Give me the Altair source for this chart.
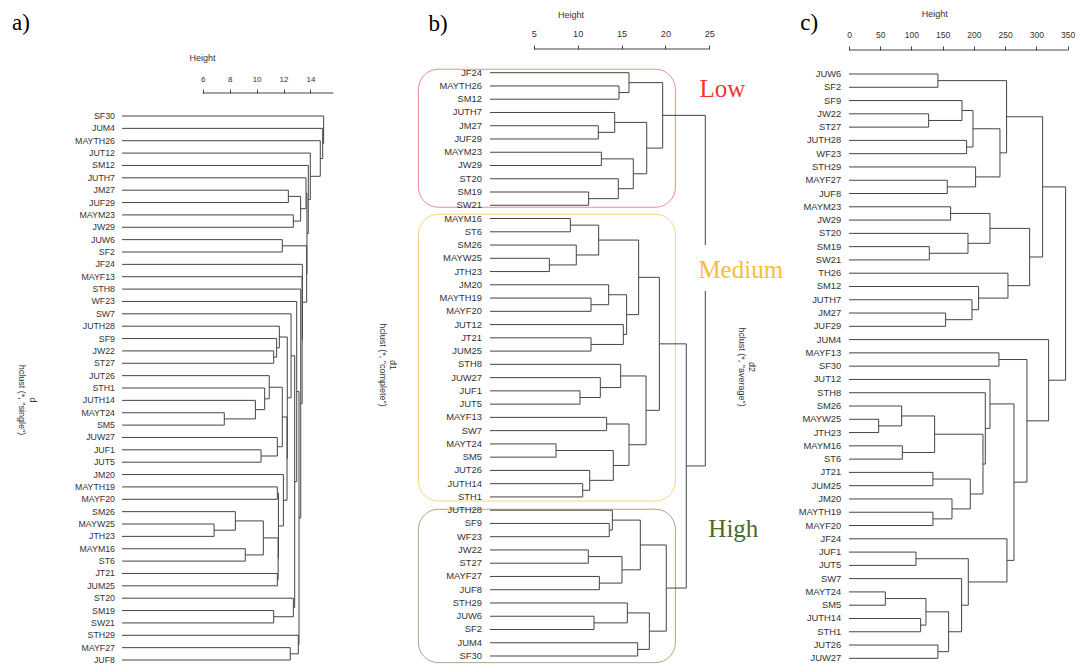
import altair as alt
import pandas as pd

SANS = "Liberation Sans"
SERIF = "Liberation Serif"
LINE = "#444444"
TXT = "#333333"

# ---------------- panel a : single linkage ----------------
LEAVES_A = ["SF30", "JUM4", "MAYTH26", "JUT12", "SM12", "JUTH7", "JM27", "JUF29",
            "MAYM23", "JW29", "JUW6", "SF2", "JF24", "MAYF13", "STH8", "WF23", "SW7",
            "JUTH28", "SF9", "JW22", "ST27", "JUT26", "STH1", "JUTH14", "MAYT24", "SM5",
            "JUW27", "JUF1", "JUT5", "JM20", "MAYTH19", "MAYF20", "SM26", "MAYW25",
            "JTH23", "MAYM16", "ST6", "JT21", "JUM25", "ST20", "SM19", "SW21", "STH29",
            "MAYF27", "JUF8"]
# (child, child, height); integers refer to earlier merges (1-based)
MERGES_A = [
    ("JM27", "JUF29", 12.36), ("MAYM23", "JW29", 12.73), (1, 2, 13.27),
    ("JUW6", "SF2", 11.91), ("JW22", "ST27", 11.27), ("SF9", 5, 11.49),
    ("JUTH28", 6, 11.69), ("MAYT24", "SM5", 7.6), ("JUTH14", 8, 9.91),
    ("STH1", 9, 10.6), ("JUT26", 10, 10.94), ("JUF1", "JUT5", 10.33),
    ("JUW27", 12, 11.54), (11, 13, 11.91), ("MAYTH19", "MAYF20", 11.54),
    ("MAYW25", "JTH23", 6.84), ("SM26", 16, 8.42), ("MAYM16", "ST6", 9.16),
    (17, 18, 10.5), ("JT21", "JUM25", 11.54), (19, 20, 11.6), (15, 21, 11.62),
    ("JM20", 22, 11.99), (14, 23, 12.26), (7, 24, 12.28), ("SW7", 25, 12.56),
    ("SM19", "SW21", 11.27), ("ST20", 27, 12.73), (26, 28, 12.83),
    ("WF23", 29, 12.98), ("MAYF27", "JUF8", 12.5), ("STH29", 31, 13.1),
    (30, 32, 13.15), ("STH8", 33, 13.28), ("MAYF13", 34, 13.38),
    ("JF24", 35, 13.4), (4, 36, 13.72), ("JUTH7", 3, 13.67), (38, 37, 13.74),
    ("SM12", 39, 13.84), ("JUT12", 40, 13.99), ("MAYTH26", 41, 14.73),
    ("JUM4", 42, 14.91), ("SF30", 43, 14.98),
]
TICKS_A = [6, 8, 10, 12, 14]
AXIS_END_A = 15.7

# ---------------- panel b : complete linkage ----------------
LEAVES_B = ["JF24", "MAYTH26", "SM12", "JUTH7", "JM27", "JUF29", "MAYM23", "JW29",
            "ST20", "SM19", "SW21", "MAYM16", "ST6", "SM26", "MAYW25", "JTH23", "JM20",
            "MAYTH19", "MAYF20", "JUT12", "JT21", "JUM25", "STH8", "JUW27", "JUF1",
            "JUT5", "MAYF13", "SW7", "MAYT24", "SM5", "JUT26", "JUTH14", "STH1",
            "JUTH28", "SF9", "WF23", "JW22", "ST27", "MAYF27", "JUF8", "STH29", "JUW6",
            "SF2", "JUM4", "SF30"]
MERGES_B = [
    ("MAYTH26", "SM12", 14.71), ("JF24", 1, 15.85), ("JM27", "JUF29", 12.35),
    ("JUTH7", 3, 14.22), ("MAYM23", "JW29", 12.7), ("SM19", "SW21", 11.25),
    ("ST20", 6, 14.63), (5, 7, 16.34), (4, 8, 17.87), (2, 9, 19.69),
    ("MAYM16", "ST6", 9.16), ("MAYW25", "JTH23", 6.77), ("SM26", 12, 9.84),
    (11, 13, 12.39), ("MAYTH19", "MAYF20", 11.52), ("JM20", 15, 13.53),
    ("JT21", "JUM25", 11.52), ("JUT12", 17, 15.2), (16, 18, 15.58),
    (14, 19, 16.95), ("JUF1", "JUT5", 10.26), ("JUW27", 21, 12.58),
    ("STH8", 22, 14.9), ("MAYF13", "SW7", 13.3), ("MAYT24", "SM5", 7.53),
    ("JUTH14", "STH1", 10.57), ("JUT26", 26, 11.37), (25, 27, 14.06),
    (24, 28, 15.85), (23, 29, 17.79), (20, 30, 19.31), ("SF9", "WF23", 13.6),
    ("JUTH28", 32, 13.95), ("JW22", "ST27", 11.21), ("MAYF27", "JUF8", 12.47),
    (34, 35, 15.05), (33, 36, 17.14), ("JUW6", "SF2", 11.86), ("STH29", 38, 15.66),
    ("JUM4", "SF30", 16.84), (39, 40, 18.17), (37, 41, 20.1), (31, 42, 22.38),
    (10, 43, 24.55),
]
TICKS_B = [5, 10, 15, 20, 25]
AXIS_END_B = 25

GROUP_NAMES = ["Low", "Medium", "High"]
GROUP_TEXT_COLORS = ["#f03535", "#f9bc3c", "#4d6a2a"]
GROUP_BOX_COLORS = ["#ee8d8d", "#fbd47f", "#a6a884"]
GROUP_TOP = [-0.26, 10.68, 32.93]      # in leaf units
GROUP_BOTTOM = [10.15, 32.31, 44.5]
GROUP_BOX_X = [-8.16, 21.14]           # in height units
GROUP_LABEL_X = [23.88, 23.76, 24.9]
GROUP_LABEL_Y = [1.83, 15.49, 35.02]
MEDIUM_GAP_X = [23.4, 33.8]
MEDIUM_GAP_Y = [13.0, 16.47]

# ---------------- panel c : average linkage ----------------
LEAVES_C = ["JUW6", "SF2", "SF9", "JW22", "ST27", "JUTH28", "WF23", "STH29", "MAYF27",
            "JUF8", "MAYM23", "JW29", "ST20", "SM19", "SW21", "TH26", "SM12", "JUTH7",
            "JM27", "JUF29", "JUM4", "MAYF13", "SF30", "JUT12", "STH8", "SM26", "MAYW25",
            "JTH23", "MAYM16", "ST6", "JT21", "JUM25", "JM20", "MAYTH19", "MAYF20",
            "JF24", "JUF1", "JUT5", "SW7", "MAYT24", "SM5", "JUTH14", "STH1", "JUT26",
            "JUW27"]
MERGES_C = [
    ("JUW6", "SF2", 142.4), ("JW22", "ST27", 127.5), ("SF9", 2, 180.9),
    ("JUTH28", "WF23", 188.3), (3, 4, 198.5), ("MAYF27", "JUF8", 157.4),
    ("STH29", 6, 202.7), (5, 7, 241.7), (1, 8, 252.3), ("MAYM23", "JW29", 162.7),
    ("SM19", "SW21", 128.6), ("ST20", 11, 190.5), (10, 12, 225.7),
    ("JM27", "JUF29", 154.7), ("JUTH7", 14, 196.9), ("SM12", 15, 207.5),
    ("TH26", 16, 254.5), (13, 17, 289.2), (9, 18, 310.0), ("MAYF13", "SF30", 240.1),
    ("MAYW25", "JTH23", 47.5), ("SM26", 21, 84.3), ("MAYM16", "ST6", 85.4),
    (22, 23, 137.1), ("JT21", "JUM25", 134.4), ("MAYTH19", "MAYF20", 134.4),
    ("JM20", 26, 164.9), (25, 27, 194.2), (24, 28, 214.5), ("STH8", 29, 218.2),
    ("JUT12", 30, 225.7), ("JUF1", "JUT5", 107.2), ("MAYT24", "SM5", 58.2),
    ("JUTH14", "STH1", 114.7), (33, 34, 123.2), ("JUT26", "JUW27", 142.4),
    (35, 36, 159.5), ("SW7", 37, 180.3), (32, 38, 191.0), ("JF24", 39, 252.9),
    (31, 40, 264.1), (20, 41, 284.9), ("JUM4", 42, 319.6), (19, 43, 346.8),
]
TICKS_C = [0, 50, 100, 150, 200, 250, 300, 350]
AXIS_END_C = 350

# ---------------- layout ----------------
Y0 = 60          # page y of the top of every plot area
H = 600          # plot area height
SPACING = 80


def tree_segments(leaves, merges):
    pos = {n: i for i, n in enumerate(leaves)}
    cy, ch, rows = [], [], []

    def node(c):
        if isinstance(c, str):
            return float(pos[c]), 0.0
        return cy[c - 1], ch[c - 1]

    for c1, c2, h in merges:
        y1, h1 = node(c1)
        y2, h2 = node(c2)
        rows += [dict(x=h1, x2=h, y=y1, y2=y1),
                 dict(x=h2, x2=h, y=y2, y2=y2),
                 dict(x=h, x2=h, y=y1, y2=y2)]
        cy.append((y1 + y2) / 2)
        ch.append(h)
    return pd.DataFrame(rows)


def panel(leaves, merges, ticks, axis_end, ox, px, width, first_px, step_px,
          label_size, label_dx, tick_font, axis_y, label_cy, title_xy,
          letter, letter_xy, sub, sub_xy, before=None, after=None, anchor=False):
    xmax = width / px
    d0 = -(first_px - Y0) / step_px
    d1 = d0 + H / step_px
    xs = alt.Scale(domain=[0, xmax], nice=False, zero=False)
    ys = alt.Scale(domain=[d0, d1], nice=False, zero=False, reverse=True)
    xaxis = alt.Axis(
        values=ticks, orient="top", offset=Y0 - axis_y, domain=False, grid=False,
        tickSize=4, tickColor=LINE, tickWidth=1,
        labelFont=SANS, labelFontSize=tick_font, labelColor=TXT,
        labelBaseline="middle", labelPadding=axis_y - label_cy - 4,
        labelFlush=False, labelOverlap=False,
        title="Height", titleFont=SANS, titleFontSize=9, titleFontWeight="normal",
        titleColor=TXT, titleX=title_xy[0] - ox, titleY=title_xy[1] - axis_y,
        titleBaseline="middle", titleAlign="center", titleAngle=0)

    def X(field):
        return alt.X(field, scale=xs, axis=xaxis)

    def Y(field):
        return alt.Y(field, scale=ys, axis=None)

    seg = alt.Chart(tree_segments(leaves, merges)).mark_rule(
        color=LINE, strokeWidth=1).encode(x=X("x:Q"), x2="x2", y=Y("y:Q"), y2="y2")

    dom = alt.Chart(pd.DataFrame({"x": [ticks[0]], "x2": [axis_end]})).mark_rule(
        color=LINE, strokeWidth=1).encode(x=X("x:Q"), x2="x2", y=alt.value(axis_y - Y0))

    lab = alt.Chart(pd.DataFrame({"name": leaves, "i": list(range(len(leaves))),
                                  "x": [0.0] * len(leaves)})).mark_text(
        align="right", baseline="middle", dx=label_dx, font=SANS,
        fontSize=label_size, color=TXT).encode(x=X("x:Q"), y=Y("i:Q"), text="name:N")

    let = alt.Chart(pd.DataFrame({"t": [letter]})).mark_text(
        align="left", baseline="alphabetic", font=SERIF, fontSize=23,
        color="black").encode(
        x=alt.value(letter_xy[0] - ox), y=alt.value(letter_xy[1] - Y0), text="t:N")

    subl = alt.Chart(pd.DataFrame({"k": [0]})).mark_text(
        text=sub, angle=90, align="center", baseline="middle", lineHeight=10.5,
        font=SANS, fontSize=9, color=TXT).encode(
        x=alt.value(sub_xy[0] - ox), y=alt.value(sub_xy[1] - Y0))

    layers = []
    if anchor:
        # invisible layout anchor: pins the top of the drawing to the page margin
        layers.append(alt.Chart(pd.DataFrame({"k": [0]})).mark_rule(
            strokeOpacity=0, strokeWidth=1).encode(
            x=alt.value(0), x2=alt.value(2), y=alt.value(8.5 - Y0)))
    if before:
        layers += before(X, Y)
    layers += [seg, dom]
    if after:
        layers += after(X, Y)
    layers += [lab, let, subl]
    return alt.layer(*layers).properties(width=width, height=H)


def b_before(X, Y):
    boxes = pd.DataFrame({"x": [GROUP_BOX_X[0]] * 3, "x2": [GROUP_BOX_X[1]] * 3,
                          "y": GROUP_TOP, "y2": GROUP_BOTTOM, "col": GROUP_BOX_COLORS})
    return [alt.Chart(boxes).mark_rect(cornerRadius=20, fillOpacity=0, strokeWidth=1).encode(
        x=X("x:Q"), x2="x2", y=Y("y:Q"), y2="y2",
        stroke=alt.Stroke("col:N", scale=None))]


def b_after(X, Y):
    gap = pd.DataFrame({"x": [MEDIUM_GAP_X[0]], "x2": [MEDIUM_GAP_X[1]],
                        "y": [MEDIUM_GAP_Y[0]], "y2": [MEDIUM_GAP_Y[1]]})
    white = alt.Chart(gap).mark_rect(color="white").encode(
        x=X("x:Q"), x2="x2", y=Y("y:Q"), y2="y2")
    grp = pd.DataFrame({"name": GROUP_NAMES, "x": GROUP_LABEL_X, "y": GROUP_LABEL_Y,
                        "col": GROUP_TEXT_COLORS})
    txt = alt.Chart(grp).mark_text(align="left", baseline="alphabetic", font=SERIF,
                                   fontSize=25).encode(
        x=X("x:Q"), y=Y("y:Q"), text="name:N", color=alt.Color("col:N", scale=None))
    return [white, txt]


OX_A, OX_B, OX_C = 122.0, 489.6, 847.7
PX_A, PX_B, PX_C = 13.46, 8.77, 0.6246
W_A = OX_B - OX_A - SPACING
W_B = OX_C - OX_B - SPACING
W_C = PX_C * 352

pa = panel(LEAVES_A, MERGES_A, TICKS_A, AXIS_END_A, OX_A, PX_A, W_A, 116.0, 12.364,
           8.8, -7, 8, 93, 79, (202, 57.8), "a)", (12, 30),
           ["d", 'hclust (*, "single")'], (32.5, 400), anchor=True)
pb = panel(LEAVES_B, MERGES_B, TICKS_B, AXIS_END_B, OX_B, PX_B, W_B, 72.7, 13.257,
           9.4, -8, 9.2, 49, 33.3, (570, 14), "b)", (428, 31),
           ["d1", 'hclust (*, "complete")'], (393, 365),
           before=b_before, after=b_after)
pc = panel(LEAVES_C, MERGES_C, TICKS_C, AXIS_END_C, OX_C, PX_C, W_C, 74.0, 13.28,
           9.4, -7.7, 8.5, 50, 34.5, (933, 13), "c)", (799, 30),
           ["d2", 'hclust (*, "average")'], (751, 367))

chart = alt.hconcat(pa, pb, pc, spacing=SPACING, bounds="flush").properties(
    padding={"left": 4, "top": 0, "right": 2, "bottom": 0}
).configure_view(stroke=None)

chart.save("out.html", embed_options={"renderer": "svg", "actions": False})
